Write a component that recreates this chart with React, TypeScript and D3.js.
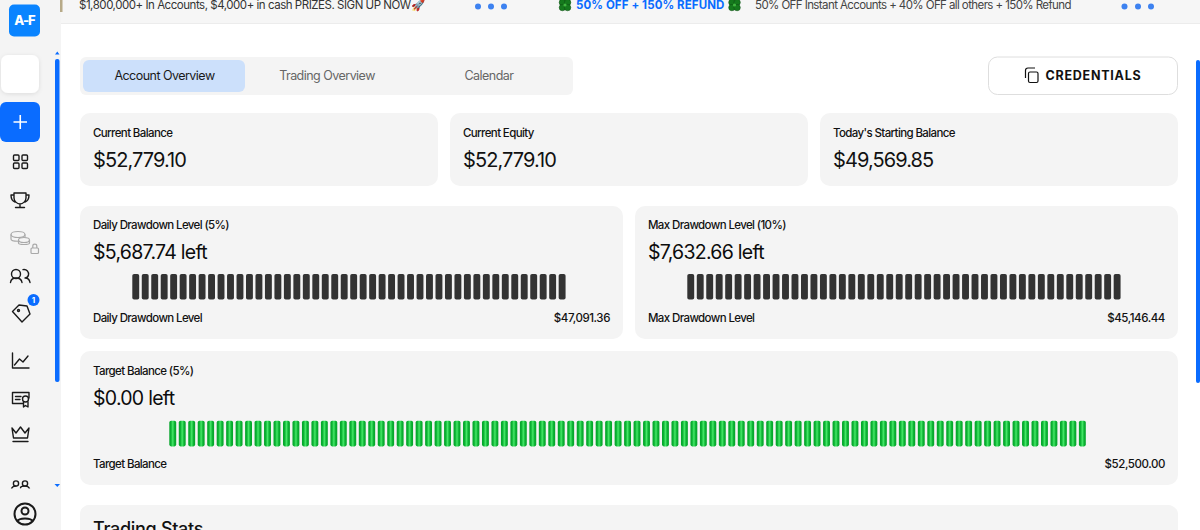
import React from "react";
import * as d3 from "d3";

const statLabels = ["Current Balance", "Current Equity", "Today's Starting Balance"];
const statValues = ["$52,779.10", "$52,779.10", "$49,569.85"];
const tabLabels = ["Account Overview", "Trading Overview", "Calendar"];
const meterTitles = ["Daily Drawdown Level (5%)", "Max Drawdown Level (10%)", "Target Balance (5%)"];
const meterLeft = ["$5,687.74 left", "$7,632.66 left", "$0.00 left"];
const meterLabels = ["Daily Drawdown Level", "Max Drawdown Level", "Target Balance"];
const meterLevels = ["$47,091.36", "$45,146.44", "$52,500.00"];
const meterSegments = [46, 46, 97];

const font = "Inter, 'Noto Sans', sans-serif";
const pitch = 9.475;
const barW = 6.9;

function Meter({ x, y, w, h, i, barX, dy, barDy }: { x: number; y: number; w: number; h: number; i: number; barX: number; dy: number; barDy: number }) {
  const n = meterSegments[i];
  const xs = d3.scaleLinear().domain([0, n]).range([barX, barX + n * pitch]);
  const green = i === 2;
  return (
    <g>
      <rect x={x} y={y} width={w} height={h} rx={10} fill="#f4f4f4" />
      <text x={x + 13} y={y + 23 + dy} fontSize={11.5} fontWeight={500} letterSpacing={-0.62} fill="#111">{meterTitles[i]}</text>
      <text x={x + 13} y={y + 53 + dy} fontSize={19.5} letterSpacing={-0.72} fill="#0c0c0c">{meterLeft[i]}</text>
      {d3.range(n).map((k) => (
        <rect key={k} x={xs(k)} y={y + barDy} width={barW} height={25.6} rx={1.8}
          fill={green ? "url(#greenBar)" : "#333333"} />
      ))}
      <text x={x + 13} y={y + 115.6 + dy} fontSize={11.5} fontWeight={500} letterSpacing={-0.62} fill="#111">{meterLabels[i]}</text>
      <text x={x + w - 13} y={y + 115.6 + dy} fontSize={11.5} fontWeight={500} letterSpacing={-0.42} textAnchor="end" fill="#111">{meterLevels[i]}</text>
    </g>
  );
}

function Clover({ cx, cy }: { cx: number; cy: number }) {
  const lobes = [[-2.6, -2.6], [2.6, -2.6], [-2.6, 2.6], [2.6, 2.6]];
  return (
    <g>
      {lobes.map(([dx, dy]) => (
        <circle key={`${dx}${dy}`} cx={cx + dx} cy={cy + dy} r={3.2} fill="#157a1d" stroke="#0d4d12" strokeWidth={0.5} />
      ))}
      <circle cx={cx} cy={cy} r={1.6} fill="#3fb53f" />
    </g>
  );
}

const I = ({ children }: { children: React.ReactNode }) => (
  <g fill="none" stroke="#1a1a1a" strokeWidth={1.4} strokeLinecap="round" strokeLinejoin="round">{children}</g>
);

export default function App() {
  const statX = d3.scaleLinear().domain([0, 1]).range([80, 450]);
  const tabCx = [164.5, 327, 489];
  return (
    <svg width={1200} height={530} viewBox="0 0 1200 530" fontFamily={font}
      style={{ position: "absolute", left: 0, top: 0, display: "block", background: "#fff" }}>
      <defs>
        <linearGradient id="greenBar" x1="0" x2="1" y1="0" y2="0">
          <stop offset="0" stopColor="#04a229" />
          <stop offset="0.25" stopColor="#0cb334" />
          <stop offset="0.5" stopColor="#46e868" />
          <stop offset="0.75" stopColor="#0cb334" />
          <stop offset="1" stopColor="#04a229" />
        </linearGradient>
        <filter id="soft" x="-20%" y="-20%" width="140%" height="140%">
          <feDropShadow dx="0" dy="1" stdDeviation="2" floodColor="#000" floodOpacity="0.1" />
        </filter>
      </defs>

      {/* sidebar */}
      <rect x={0} y={0} width={61} height={530} fill="#f4f4f4" />
      <rect x={9} y={4.500} width={31} height={32} rx={5} fill="#0a84ff" />
      <text x={24.500} y={25} fontSize={13} fontWeight={800} textAnchor="middle" fill="#fff" letterSpacing={-1}>A-F</text>
      <rect x={1} y={55} width={38} height={38} rx={7} fill="#fff" filter="url(#soft)" />
      <rect x={0} y={102} width={40} height={40} rx={6} fill="#0a6cff" />
      <path d="M13.500 122H27M20.250 115V129" stroke="#fff" strokeWidth={1.6} />
      <rect x={55} y={59} width={4.500} height={323} rx={2} fill="#0a6cff" />
      <path d="M55 54.500L57.300 51.500L59.500 54.500Z" fill="#0a6cff" />
      <path d="M54.500 484L57.300 487L60 484Z" fill="#0a6cff" />
      <I>
        <rect x={13.500} y={155} width={5.500} height={5.500} rx={1} />
        <rect x={22} y={155} width={5.500} height={5.500} rx={1} />
        <rect x={13.500} y={163} width={5.500} height={5.500} rx={1} />
        <rect x={22} y={163} width={5.500} height={5.500} rx={1} />
        <path d="M14 193H26V198C26 201 23 204 20 204C17 204 14 201 14 198ZM14 195H11C11 199 12 201 15 202M26 195H29C29 199 28 201 25 202M20 204V207.500M15.500 207.500H24.500" />
        <circle cx={16} cy={274} r={4.500} />
        <path d="M10.500 282.500C11 279 13 278 16 278C19 278 21.500 279 22 282.500" />
        <path d="M23 269.600C27 269 29 272 28.500 275C28 277 26.500 278 25 278C28 278 29.500 279.500 30 282.500" />
        <path d="M12.500 311.500L19 305L27 306L30 314L22 322Z" />
        <circle cx={18.500} cy={310.500} r={1} />
        <path d="M12.500 353V368H29M14.500 365L19.500 359L23 362L28 356" />
        <path d="M29 398V392.500H12.500V403.500H23M15.500 396.500H21M15.500 399.500H20M23.500 402V407L25.500 405.500L28 407V402" />
        <circle cx={25.500} cy={399} r={3} />
        <path d="M12 428L16 433L20.500 427L25 433L29 428L27.500 438H13.500ZM13 441.500H28" />
        <circle cx={16} cy={483.500} r={2.600} />
        <circle cx={25} cy={483.500} r={2.600} />
        <path d="M11.500 489C12 487 14 486 16 486M29.500 489C29 487 27 486 25 486M20.500 488C20.500 487 22 486 25 486" />
      </I>
      <rect x={0} y={488.500} width={54} height={41.500} fill="#f4f4f4" />
      <g fill="none" stroke="#1a1a1a" strokeWidth={2}>
        <circle cx={25} cy={514} r={10.500} />
        <circle cx={25} cy={511} r={3.500} />
        <path d="M17 521.500C19 517.500 31 517.500 33 521.500" />
      </g>
      <g fill="none" stroke="#a9a9a9" strokeWidth={1.200}>
        <ellipse cx={18} cy={234.500} rx={7} ry={3} />
        <path d="M11 234.500V239C11 242 25 242 25 239V234.500" />
        <ellipse cx={24} cy={240} rx={5.500} ry={2.500} fill="#f4f4f4" />
        <path d="M18.500 240V243C18.500 245 29.500 245 29.500 243V240" />
        <rect x={31} y={248} width={7.500} height={5.500} rx={1} />
        <path d="M32.800 248V246C32.800 243.500 36.800 243.500 36.800 246V248" />
      </g>
      <circle cx={33.500} cy={300} r={6} fill="#0a6cff" />
      <text x={33.500} y={303} fontSize={8} fontWeight={700} textAnchor="middle" fill="#fff">1</text>

      {/* ticker */}
      <rect x={61} y={0} width={1139} height={23.500} fill="#f6f6f6" />
      <rect x={61} y={23} width={1139} height={1} fill="#ececec" />
      <rect x={60} y={0} width={2.500} height={12} fill="#9c8a5a" opacity={0.7} />
      <text x={79} y={9} fontSize={11.500} letterSpacing={-0.47} fill="#333">$1,800,000+ In Accounts, $4,000+ in cash PRIZES. SIGN UP NOW🚀</text>
      <text x={576} y={9} fontSize={11.500} fontWeight={700} letterSpacing={0.1} fill="#0a6cff">50% OFF + 150% REFUND</text>
      <text x={755} y={9} fontSize={11.500} letterSpacing={-0.59} fill="#444">50% OFF Instant Accounts + 40% OFF all others + 150% Refund</text>
      <Clover cx={565} cy={5} />
      <Clover cx={734.500} cy={5} />
      {[478, 491, 504, 1124.500, 1138, 1151].map((cx) => (
        <circle key={cx} cx={cx} cy={6.500} r={3} fill="#3d82f0" />
      ))}

      {/* tabs */}
      <rect x={80} y={57} width={493} height={38} rx={6} fill="#f4f4f4" />
      <rect x={83} y={60} width={162} height={32} rx={6} fill="#cce0fb" />
      {tabLabels.map((t, i) => (
        <text key={t} x={tabCx[i]} y={79.500} fontSize={12.500} letterSpacing={-0.53} textAnchor="middle" fill={i === 0 ? "#1a1a1a" : "#666"}>{t}</text>
      ))}

      {/* credentials */}
      <rect x={988.500} y={57} width={189} height={37.500} rx={9} fill="#fff" stroke="#dedede" />
      <g fill="none" stroke="#111" strokeWidth={1.200}>
        <rect x={1028.500} y={72} width={9.500} height={10.500} rx={1.500} />
        <path d="M1025.500 78V70.500C1025.500 69 1026.500 68 1028 68H1035" />
      </g>
      <text x={1045.500} y={79.500} fontSize={12.500} fontWeight={700} letterSpacing={0.75} fill="#111">CREDENTIALS</text>

      {/* stat cards */}
      {statLabels.map((l, i) => {
        const x = statX(i);
        return (
          <g key={l}>
            <rect x={x} y={113} width={358} height={73} rx={10} fill="#f4f4f4" />
            <text x={x + 13} y={137} fontSize={11.500} fontWeight={500} letterSpacing={-0.62} fill="#111">{l}</text>
            <text x={x + 13} y={167} fontSize={20} letterSpacing={-0.92} fill="#111">{statValues[i]}</text>
          </g>
        );
      })}

      <Meter x={80} y={206} w={543} h={133} i={0} barX={132.300} dy={0} barDy={68} />
      <Meter x={635} y={206} w={543} h={133} i={1} barX={687.300} dy={0} barDy={68} />
      <Meter x={80} y={351} w={1098} h={134} i={2} barX={169.300} dy={1} barDy={69.800} />

      {/* trading stats */}
      <path d="M80 530V514C80 509 84 505 89 505H1168C1173 505 1178 509 1178 514V530Z" fill="#f4f4f4" />
      <text x={93} y={535} fontSize={18} fontWeight={500} letterSpacing={-0.3} fill="#111">Trading Stats</text>

      {/* right scrollbar */}
      <rect x={1196} y={60} width={4} height={323} rx={2} fill="#0a6cff" />
    </svg>
  );
}
